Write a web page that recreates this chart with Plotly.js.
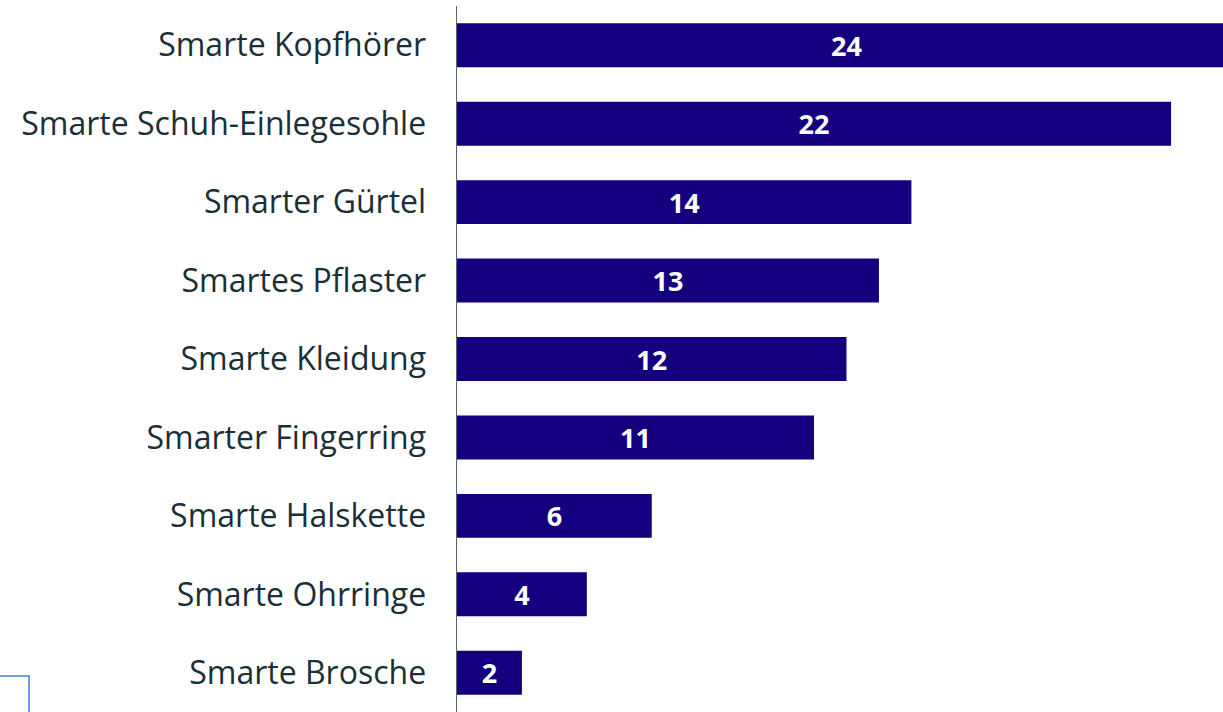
<!DOCTYPE html>
<html>
<head>
<meta charset="utf-8">
<script src="https://cdn.plot.ly/plotly-3.0.1.min.js"></script>
<style>html,body{margin:0;padding:0;background:#fff;}#chart{width:1223px;height:712px;}</style>
</head>
<body>
<div id="chart"></div>
<script>
const categories = ["Smarte Kopfhörer","Smarte Schuh-Einlegesohle","Smarter Gürtel","Smartes Pflaster","Smarte Kleidung","Smarter Fingerring","Smarte Halskette","Smarte Ohrringe","Smarte Brosche"];
const values = [24,22,14,13,12,11,6,4,2];

const W = 1223, H = 712, L = 457, T = 6;
const pw = W - L, ph = H - T;
function px2paperX(p){ return (p - L) / pw; }
function px2paperY(p){ return (H - p) / ph; }

const trace = {
  type: 'bar', orientation: 'h',
  x: values, y: categories,
  width: 0.56,
  marker: {color: '#14007f', line: {width: 0}},
  text: values.map(String),
  textposition: 'inside', insidetextanchor: 'middle', textangle: 0,
  constraintext: 'none',
  textfont: {family: 'Open Sans, sans-serif', size: 27, color: '#ffffff', weight: 700},
  hoverinfo: 'none'
};

const layout = {
  width: W, height: H,
  margin: {l: L, r: 0, t: T, b: 0, pad: 0},
  paper_bgcolor: '#ffffff', plot_bgcolor: '#ffffff',
  showlegend: false,
  xaxis: {range: [0, 23.6], visible: false, fixedrange: true},
  yaxis: {
    type: 'category', autorange: 'reversed',
    showline: true, linecolor: '#56676f', linewidth: 1.5,
    showgrid: false, zeroline: false, ticks: '',
    ticklabelstandoff: 23,
    tickfont: {family: 'Open Sans, sans-serif', size: 32, color: '#1b2f36'}
  },
  shapes: [{
    type: 'rect', xref: 'paper', yref: 'paper',
    x0: px2paperX(-4), x1: px2paperX(29), y0: px2paperY(714), y1: px2paperY(676),
    line: {color: '#3d7ff0', width: 1.5}, fillcolor: 'rgba(0,0,0,0)'
  }]
};

Plotly.newPlot('chart', [trace], layout, {displayModeBar: false, staticPlot: true});
</script>
</body>
</html>
